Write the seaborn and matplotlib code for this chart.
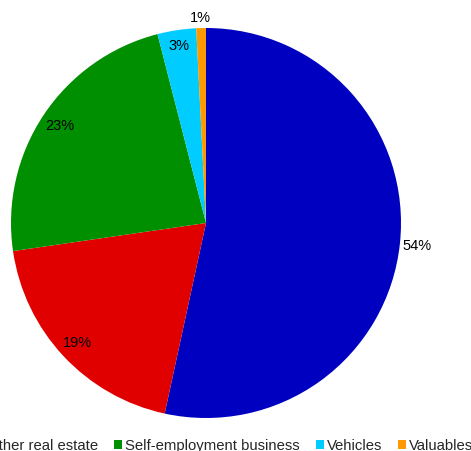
import matplotlib
matplotlib.use("Agg")
import matplotlib.pyplot as plt
import seaborn as sns
import numpy as np
from matplotlib.patches import Patch

categories = ["Primary residence", "Other real estate", "Self-employment business", "Vehicles", "Valuables"]
values = [53.4, 19.3, 23.3, 3.2, 0.8]
pct_labels = ["54%", "19%", "23%", "3%", "1%"]
colors = ["#0000C0", "#E00000", "#008F00", "#00CCFF", "#FF9900"]
label_radius = [1.09, 0.90, 0.90, 0.92, 1.05]

sns.set_theme(style="white")
plt.rcParams["font.family"] = ["Liberation Sans", "DejaVu Sans"]

fig = plt.figure(figsize=(4.71, 4.51), dpi=100)
W, H = 471, 451
cx, cy, r = 206, 223, 195
ax = fig.add_axes([(cx - r) / W, (H - cy - r) / H, 2 * r / W, 2 * r / H])

wedges, _ = ax.pie(values, colors=colors, startangle=90, counterclock=False,
                   radius=1, wedgeprops=dict(linewidth=0))
ax.set_xlim(-1, 1)
ax.set_ylim(-1, 1)
ax.set_aspect("equal")
ax.axis("off")

for w, lab, lr in zip(wedges, pct_labels, label_radius):
    mid = np.deg2rad((w.theta1 + w.theta2) / 2)
    ax.text(lr * np.cos(mid), lr * np.sin(mid), lab, ha="center", va="center",
            fontsize=10.5, color="black")

handles = [Patch(facecolor=c, edgecolor="none") for c in colors]
fig.legend(handles, categories, loc="center right", bbox_to_anchor=(473 / W, 1 - 446 / H),
           ncol=5, frameon=False, fontsize=10.7, handlelength=0.55, handleheight=0.55,
           handletextpad=0.2, columnspacing=1.05, borderpad=0, borderaxespad=0)

fig.savefig("out.png", dpi=100)
